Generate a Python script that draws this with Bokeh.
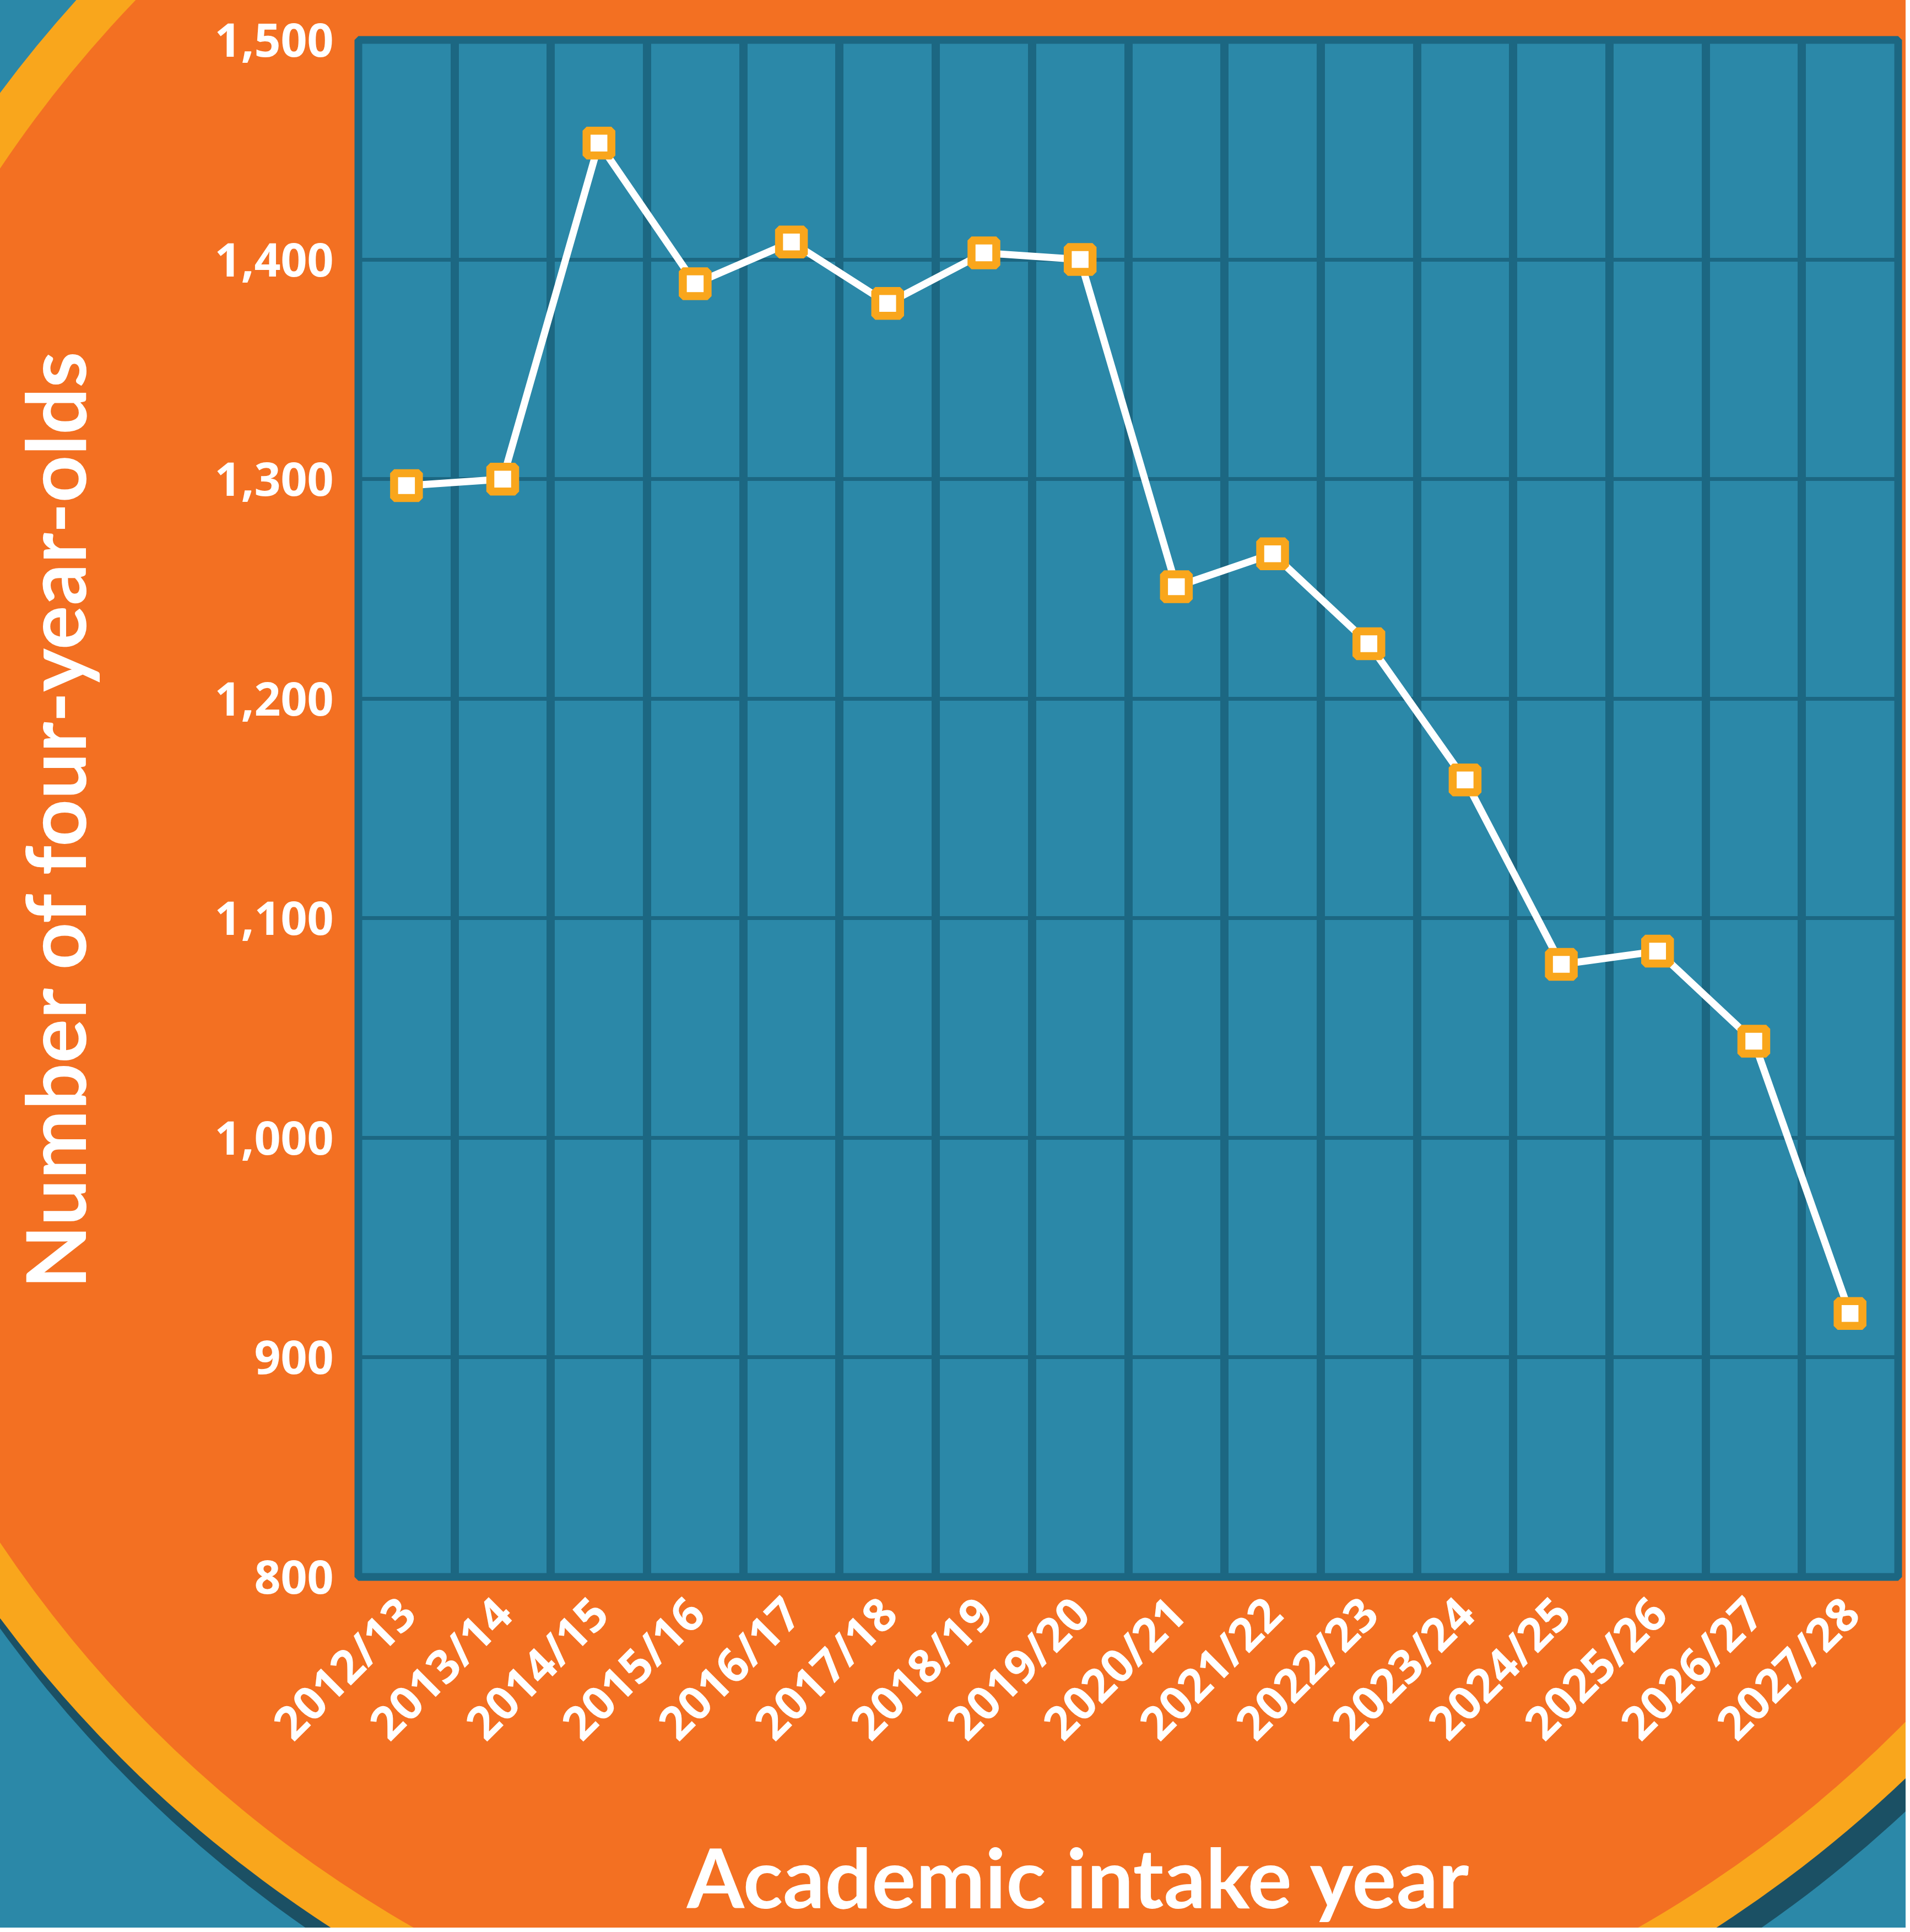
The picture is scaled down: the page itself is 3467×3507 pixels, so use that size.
from urllib.parse import quote

from bokeh.plotting import figure
from bokeh.models import Range1d, FixedTicker, NumeralTickFormatter
from bokeh.embed import file_html
from bokeh.resources import INLINE

# ---- data -------------------------------------------------------------
years = ["2012/13", "2013/14", "2014/15", "2015/16", "2016/17", "2017/18",
         "2018/19", "2019/20", "2020/21", "2021/22", "2022/23", "2023/24",
         "2024/25", "2025/26", "2026/27", "2027/28"]
four_year_olds = [1297, 1300, 1453, 1389, 1408, 1380, 1403, 1400,
                  1251, 1266, 1225, 1163, 1079, 1085, 1044, 920]
y_ticks = [800, 900, 1000, 1100, 1200, 1300, 1400, 1500]
y_label = "Number of four-year-olds"
x_label = "Academic intake year"

# ---- style ------------------------------------------------------------
ORANGE = "#F37022"
YELLOW = "#F9A61C"
TEAL = "#2B88A8"
GRID = "#1C6782"
SHADOW = "#1B5064"
TICK_FONT = "Open Sans"
LABEL_FONT = "Lato"
NBSP = "\u00a0"

W, H = 3467, 3507

# decorative backdrop: shadow ring, yellow ring and orange disc
backdrop_svg = (
    f"<svg xmlns='http://www.w3.org/2000/svg' width='{W}' height='{H}' viewBox='0 0 {W} {H}'>"
    f"<rect x='0' y='0' width='{W}' height='{H}' fill='{TEAL}'/>"
    f"<circle cx='1884' cy='1604' r='2317' fill='{SHADOW}'/>"
    f"<circle cx='1866' cy='1561' r='2317' fill='{YELLOW}'/>"
    f"<circle cx='1870' cy='1561' r='2241' fill='{ORANGE}'/>"
    f"</svg>"
)
background = (f"url(\"data:image/svg+xml,{quote(backdrop_svg)}\") 0 0 / {W}px {H}px no-repeat, "
              f"{TEAL}")

xs = list(range(len(years)))

p = figure(width=W, height=H,
           x_range=Range1d(-0.5, len(years) - 0.5),
           y_range=Range1d(y_ticks[0], y_ticks[-1]),
           output_backend="svg", toolbar_location=None,
           min_border_left=658, min_border_right=14,
           min_border_top=80, min_border_bottom=633)

# cancel the page's 8px body margin so the artwork fills the window
p.styles = {"background": background, "margin": "-8px -8px -8px -8px"}
p.border_fill_color = None
p.background_fill_color = TEAL
p.outline_line_color = GRID
p.outline_line_width = 14

# grids: vertical lines between categories, horizontal at y ticks
p.xgrid.ticker = FixedTicker(ticks=[i + 0.5 for i in xs[:-1]])
p.xgrid.grid_line_color = GRID
p.xgrid.grid_line_width = 15
p.ygrid.ticker = FixedTicker(ticks=y_ticks)
p.ygrid.grid_line_color = GRID
p.ygrid.grid_line_width = 7

# axes
for ax in (p.xaxis[0], p.yaxis[0]):
    ax.axis_line_color = None
    ax.major_tick_line_color = None
    ax.minor_tick_line_color = None
    ax.major_tick_out = 0
    ax.major_tick_in = 0
    ax.major_label_text_font = TICK_FONT
    ax.major_label_text_font_style = "bold"
    ax.major_label_text_font_size = "84px"
    ax.major_label_text_color = "white"
    ax.axis_label_text_font = LABEL_FONT
    ax.axis_label_text_font_style = "bold"
    ax.axis_label_text_font_size = "150px"
    ax.axis_label_text_color = "white"

xa = p.xaxis[0]
xa.ticker = FixedTicker(ticks=xs)
xa.major_label_overrides = {i: y for i, y in zip(xs, years)}
xa.major_label_orientation = 0.785398
xa.major_label_standoff = 50
xa.axis_label = x_label + NBSP * 5
xa.axis_label_standoff = 91

ya = p.yaxis[0]
ya.ticker = FixedTicker(ticks=y_ticks)
ya.formatter = NumeralTickFormatter(format="0,0")
ya.major_label_standoff = 45
ya.axis_label = y_label + NBSP
ya.axis_label_standoff = 198

# data
p.line(xs, four_year_olds, line_color="white", line_width=13)
p.scatter(xs, four_year_olds, marker="square", size=45,
          fill_color="white", line_color=YELLOW, line_width=14.5)

open("out.html", "w").write(file_html(p, INLINE))
